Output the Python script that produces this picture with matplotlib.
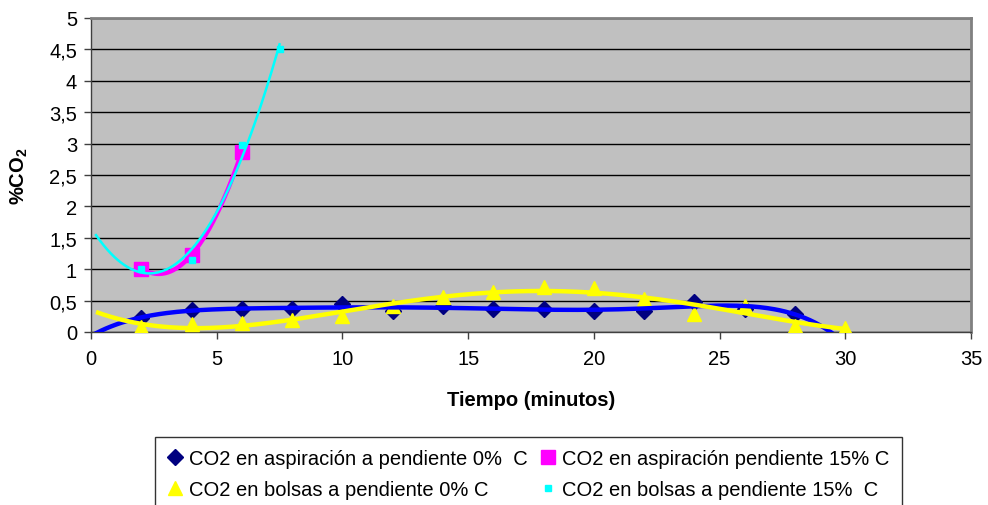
import numpy as np
import matplotlib
matplotlib.use("Agg")
import matplotlib.pyplot as plt

plt.rcParams["font.family"] = ["Liberation Sans", "DejaVu Sans"]
plt.rcParams["mathtext.fontset"] = "custom"
plt.rcParams["mathtext.bf"] = "Liberation Sans:bold"
plt.rcParams["mathtext.rm"] = "Liberation Sans"

# CO2 readings (%), time in minutes
t_asp0 = [2, 4, 6, 8, 10, 12, 14, 16, 18, 20, 22, 24, 26, 28]
co2_asp0 = [0.23, 0.35, 0.37, 0.36, 0.44, 0.34, 0.42, 0.36, 0.37, 0.34, 0.34, 0.48, 0.37, 0.29]

t_asp15 = [2, 4, 6]
co2_asp15 = [1.01, 1.23, 2.87]

t_bol0 = [2, 4, 6, 8, 10, 12, 14, 16, 18, 20, 22, 24, 26, 28, 30]
co2_bol0 = [0.08, 0.13, 0.14, 0.19, 0.26, 0.42, 0.55, 0.63, 0.72, 0.70, 0.53, 0.29, 0.42, 0.10, 0.07]

t_bol15 = [2, 4, 6, 7.5]
co2_bol15 = [1.0, 1.15, 2.97, 4.5]

labels = [
    "CO2 en aspiración a pendiente 0%  C",
    "CO2 en aspiración pendiente 15% C",
    "CO2 en bolsas a pendiente 0% C",
    "CO2 en bolsas a pendiente 15%  C",
]
xticks = [0, 5, 10, 15, 20, 25, 30, 35]
yticks = [0, 0.5, 1, 1.5, 2, 2.5, 3, 3.5, 4, 4.5, 5]
ytick_labels = ["0", "0,5", "1", "1,5", "2", "2,5", "3", "3,5", "4", "4,5", "5"]

FS = 14.5


def trend(x, y, deg, x0, x1):
    """Polynomial trendline evaluated on [x0, x1]."""
    coef = np.polyfit(x, y, deg)
    xs = np.linspace(x0, x1, 300)
    return xs, np.polyval(coef, xs)


fig = plt.figure(figsize=(9.88, 5.06), dpi=100)
ax = fig.add_axes([91 / 988, 1 - 333 / 506, (971 - 91) / 988, (333 - 19) / 506])
ax.set_facecolor("#c0c0c0")

# markers
h1, = ax.plot(t_asp0, co2_asp0, "D", color="#000080", ms=8, ls="none", zorder=3)
h2, = ax.plot(t_asp15, co2_asp15, "s", color="#ff00ff", ms=10, ls="none", zorder=3)
h3, = ax.plot(t_bol0, co2_bol0, "^", color="#ffff00", ms=10, ls="none", zorder=3)
h4, = ax.plot(t_bol15, co2_bol15, "s", color="#00ffff", ms=5, ls="none", zorder=6)

# polynomial trendlines
xs, ys = trend(t_asp0, co2_asp0, 6, 0, 30)
ax.plot(xs, ys, color="#0000ff", lw=3.2, zorder=4, solid_capstyle="butt")
xs, ys = trend(t_bol0, co2_bol0, 4, 0.2, 30)
ax.plot(xs, ys, color="#ffff00", lw=3.2, zorder=4.5, solid_capstyle="butt")
xs, ys = trend(t_asp15, co2_asp15, 2, 2, 6)
ax.plot(xs, ys, color="#ff00ff", lw=3.2, zorder=4, solid_capstyle="butt")
xs, ys = trend(t_bol15, co2_bol15, 2, 0.2, 7.5)
ax.plot(xs, ys, color="#00ffff", lw=1.8, zorder=5)

ax.set_xlim(0, 35)
ax.set_ylim(0, 5)
ax.set_xticks(xticks)
ax.set_xticklabels([str(v) for v in xticks])
ax.set_yticks(yticks)
ax.set_yticklabels(ytick_labels)
ax.yaxis.grid(True, color="black", lw=1.0)
ax.set_axisbelow(True)
ax.tick_params(axis="both", direction="out", length=5, width=1, color="#404040",
               labelsize=FS)
ax.tick_params(axis="x", pad=7)
ax.tick_params(axis="y", pad=5)

for side in ["left", "bottom"]:
    ax.spines[side].set_color("#404040")
    ax.spines[side].set_linewidth(1)
for side in ["top", "right"]:
    ax.spines[side].set_color("#808080")
    ax.spines[side].set_linewidth(2)

ax.set_xlabel("Tiempo (minutos)", fontsize=FS, fontweight="bold", labelpad=16)
ax.set_ylabel(r"%CO$_\mathbf{2}$", fontsize=FS, fontweight="bold", labelpad=14)

leg = fig.legend([h1, h3, h2, h4], [labels[0], labels[2], labels[1], labels[3]],
                 ncol=2, loc="upper left", bbox_to_anchor=(155 / 988, 1 - 438 / 506),
                 fontsize=FS, frameon=True, fancybox=False, edgecolor="black",
                 handlelength=0.8, handletextpad=0.3, columnspacing=0.6,
                 borderpad=0.6, labelspacing=0.6, borderaxespad=0)
leg.get_frame().set_linewidth(1.0)

fig.savefig("out.png", dpi=100)
